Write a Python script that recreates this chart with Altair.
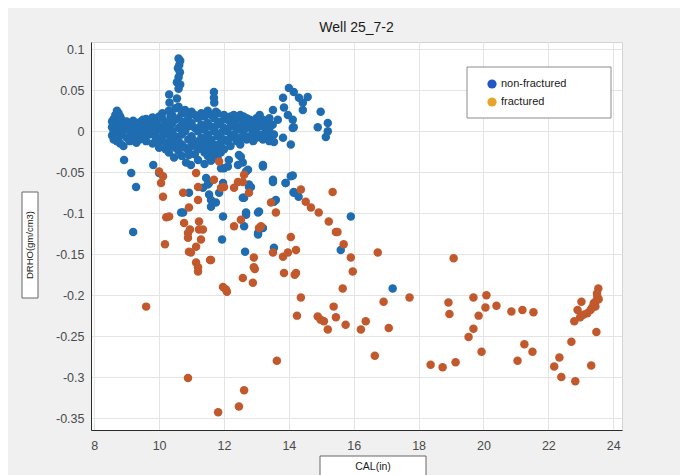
import altair as alt
import pandas as pd

# ---------------- data ----------------
# dense non-fractured band near DRHO = 0
band_x = [8.55]*3 + [8.6]*4 + [8.65]*3 + [8.7]*4 + [8.75]*4 + [8.8]*4 + [8.85]*3 + [8.9]*3 + \
    [9.0]*3 + [9.1]*3 + [9.2]*3 + [9.3]*3 + [9.4]*3 + [9.5]*3 + [9.6]*3 + [9.7]*3 + [9.8]*3 + [9.9]*3 + \
    [10.0]*4 + [10.1]*4 + [10.2]*4 + [10.3]*5 + [10.35]*3 + [10.4]*4 + [10.5]*4 + [10.6]*5 + [10.7]*5 + \
    [10.8]*4 + [10.9]*4 + [11.0]*4 + [11.1]*4 + [11.2]*5 + [11.3]*4 + [11.4]*5 + [11.5]*5 + [11.6]*5 + \
    [11.7]*4 + [11.8]*5 + [11.9]*4 + [12.0]*4 + [12.1]*3 + [12.2]*4 + [12.3]*3 + [12.4]*3 + [12.5]*4 + \
    [12.6]*3 + [12.7]*3 + [12.8]*3 + [12.9]*3 + [13.0]*3 + [13.1]*3 + [13.2]*3 + [13.3]*3 + [13.4]*3 + [13.5]*2
band_y = [0.005, -0.005, 0.012,
          0.0, 0.015, -0.01, 0.008,
          0.02, -0.003, 0.01,
          0.025, 0.005, -0.012, 0.016,
          0.022, 0.0, -0.008, 0.012,
          0.018, 0.004, -0.015, 0.01,
          0.008, -0.004, 0.014,
          0.002, -0.018, 0.011,
          0.006, -0.008, 0.012,
          0.0, -0.012, 0.009,
          0.004, -0.006, 0.013,
          -0.002, 0.008, -0.014,
          0.003, -0.01, 0.011,
          0.0, 0.014, -0.005,
          0.006, -0.012, 0.015,
          0.002, -0.004, 0.012,
          0.008, -0.015, 0.017,
          0.0, 0.013, -0.008,
          0.006, -0.012, 0.018, -0.02,
          0.002, 0.015, -0.006, 0.022,
          0.01, -0.014, 0.004, -0.022,
          0.025, 0.012, -0.004, -0.018, -0.026,
          0.018, 0.006, -0.01,
          0.02, 0.0, -0.015, 0.01,
          0.028, 0.014, -0.006, -0.02,
          0.03, 0.016, 0.004, -0.012, -0.024,
          0.022, 0.008, -0.004, -0.016, -0.03,
          0.026, 0.012, 0.0, -0.02,
          0.018, 0.006, -0.01, -0.024,
          0.024, 0.01, -0.006, -0.018,
          0.02, 0.004, -0.012, -0.028,
          0.016, 0.0, -0.014, -0.022, -0.035,
          0.022, 0.008, -0.008, -0.02,
          0.018, 0.002, -0.012, -0.026, -0.04,
          0.025, 0.01, -0.004, -0.018, -0.03,
          0.02, 0.006, -0.01, -0.024, -0.036,
          0.016, 0.0, -0.016, -0.028,
          0.022, 0.008, -0.006, -0.02, -0.032,
          0.012, -0.002, -0.014, -0.026,
          0.02, 0.004, -0.01, -0.022,
          0.014, 0.0, -0.012,
          0.018, 0.006, -0.008, -0.018,
          0.01, -0.004, 0.02,
          0.015, 0.002, -0.012,
          0.02, 0.006, -0.008, -0.016,
          0.012, -0.002, 0.018,
          0.016, 0.004, -0.01,
          0.008, -0.006, 0.014,
          0.012, 0.0, -0.012,
          0.016, 0.004, -0.008,
          0.01, -0.004, 0.02,
          0.006, -0.01, 0.014,
          0.012, 0.0, -0.008,
          0.004, 0.016, -0.012,
          0.008, -0.004]

# other non-fractured points (spike, right group, scattered below the band)
blue_x = [10.6, 10.65, 10.62, 10.58, 10.64, 10.6, 10.55, 10.65, 10.6,
          10.31, 10.32, 10.55, 11.69, 11.69, 11.7, 11.75,
          14.0, 14.15, 14.31, 14.58, 13.82, 13.51, 14.43, 13.85, 13.97, 14.12, 14.98,
          14.89, 15.2, 15.2, 15.14, 14.06, 13.54, 14.43, 13.66, 14.12, 14.15, 13.82, 13.54,
          13.2, 13.51, 14.06, 13.9, 14.15, 14.3, 13.54, 13.08, 12.68, 12.77, 12.46, 12.15,
          12.0, 12.58, 12.68,
          8.92, 9.14, 9.29, 9.82, 10.0, 10.46, 10.92, 10.98, 11.54, 11.54, 11.66, 11.6,
          11.97, 10.68, 11.91, 12.12, 12.43, 12.52, 12.74, 12.83, 12.62, 12.68, 12.62,
          13.05, 13.2, 13.51, 13.6, 13.2, 13.05, 9.2, 11.35, 11.45, 11.85, 11.75,
          15.91, 15.6, 17.2,
          10.74, 10.83, 10.92, 11.5, 11.6, 11.94, 11.97, 12.58, 12.65, 13.05,
          13.54, 13.9, 14.12, 14.15, 12.77]
blue_y = [0.089, 0.086, 0.081, 0.077, 0.072, 0.066, 0.06, 0.057, 0.052,
          0.045, 0.035, 0.04, 0.048, 0.041, 0.035, 0.024,
          0.053, 0.048, 0.041, 0.042, 0.041, 0.026, 0.026, 0.029, 0.02, 0.004, 0.024,
          0.005, 0.01, 0.0, -0.007, -0.016, -0.013, 0.035, 0.014, 0.014, 0.005, -0.008, -0.004,
          -0.041, -0.059, -0.055, -0.063, -0.075, -0.08, -0.086, -0.098, -0.102, -0.065, -0.029, -0.035,
          -0.045, -0.038, -0.049,
          -0.035, -0.051, -0.068, -0.041, -0.051, -0.032, -0.029, -0.041, -0.063, -0.077, -0.087, -0.092,
          -0.104, -0.099, -0.045, -0.043, -0.041, -0.031, -0.047, -0.068, -0.081, -0.099, -0.116,
          -0.099, -0.043, -0.062, -0.084, -0.118, -0.124, -0.123, -0.069, -0.057, -0.075, -0.087,
          -0.104, -0.145, -0.192,
          -0.099, -0.038, -0.075, -0.065, -0.084, -0.132, -0.063, -0.081, -0.147, -0.126,
          -0.142, -0.063, -0.054, -0.074, -0.068]

# fractured points
orange_x = [10.0, 10.06, 10.12, 10.22, 10.31, 11.14, 11.2, 11.2, 10.74, 10.77, 11.23, 10.92,
            11.69, 11.85, 11.91, 12.0, 12.31, 12.43, 12.62, 12.58, 13.45, 13.6, 14.37, 14.52,
            14.68, 14.92, 15.23, 15.35, 15.45, 12.31, 12.52, 10.89, 11.23, 14.06,
            10.18, 10.95, 10.89, 11.35, 11.29, 11.14, 10.92, 11.14, 11.2, 11.57, 12.77, 13.08,
            14.22, 13.51, 13.82, 13.97, 12.92, 12.92, 13.85, 14.18, 12.58, 12.89, 11.97, 12.06,
            15.5, 10.12,
            9.6, 10.98, 11.2, 11.6, 12.09, 12.95, 13.14, 14.25, 14.37, 14.22, 14.89, 14.98,
            15.08, 15.2, 15.38, 15.45, 15.75, 15.66, 15.69, 15.91, 15.97, 16.22, 16.37, 16.65,
            16.74, 10.89, 11.82, 12.46, 12.62, 13.63, 16.92, 17.08,
            19.08, 18.92, 18.95, 19.69, 20.09, 20.06, 20.4, 19.85, 19.69, 19.54, 20.86, 21.2,
            21.54, 19.94, 18.37, 18.74, 19.14, 21.26, 21.51, 21.05, 22.18, 22.34, 22.4, 22.83,
            22.71, 22.8, 22.98, 23.08, 23.02, 23.35, 23.45, 23.51, 23.54, 23.45, 23.48, 23.32,
            17.72, 23.4, 23.5, 23.3, 23.55, 23.2, 22.9]
orange_y = [-0.049, -0.063, -0.08, -0.105, -0.104, -0.051, -0.068, -0.084, -0.075, -0.112, -0.11, -0.093,
            -0.059, -0.037, -0.069, -0.068, -0.069, -0.062, -0.053, -0.062, -0.087, -0.099, -0.071, -0.086,
            -0.093, -0.099, -0.11, -0.074, -0.123, -0.116, -0.108, -0.124, -0.12, -0.129,
            -0.138, -0.12, -0.13, -0.12, -0.132, -0.141, -0.147, -0.16, -0.166, -0.157, -0.075, -0.118,
            -0.145, -0.148, -0.153, -0.148, -0.154, -0.166, -0.173, -0.175, -0.179, -0.185, -0.19, -0.193,
            -0.123, -0.055,
            -0.214, -0.148, -0.171, -0.157, -0.196, -0.168, -0.116, -0.225, -0.203, -0.173, -0.226, -0.23,
            -0.232, -0.242, -0.214, -0.227, -0.236, -0.192, -0.138, -0.154, -0.171, -0.242, -0.232, -0.274,
            -0.148, -0.301, -0.343, -0.336, -0.316, -0.28, -0.208, -0.24,
            -0.155, -0.209, -0.223, -0.203, -0.2, -0.215, -0.213, -0.225, -0.241, -0.251, -0.22, -0.218,
            -0.221, -0.269, -0.285, -0.288, -0.282, -0.26, -0.269, -0.28, -0.287, -0.276, -0.3, -0.305,
            -0.257, -0.232, -0.227, -0.224, -0.208, -0.215, -0.208, -0.202, -0.192, -0.214, -0.245, -0.286,
            -0.203, -0.21, -0.198, -0.218, -0.205, -0.222, -0.218]

x_ticks = [8, 10, 12, 14, 16, 18, 20, 22, 24]
y_ticks = [-0.35, -0.3, -0.25, -0.2, -0.15, -0.1, -0.05, 0, 0.05, 0.1]
groups = ["non-fractured", "fractured"]

# ---------------- build table ----------------
all_bx = band_x + blue_x
all_by = band_y + blue_y
df = pd.DataFrame({
    "CAL": all_bx + orange_x,
    "DRHO": all_by + orange_y,
    "group": [groups[0]] * len(all_bx) + [groups[1]] * len(orange_x),
    "order": [0] * len(all_bx) + [1] * len(orange_x),
})

FONT = "Liberation Sans"
W, H = 531, 388

points = alt.Chart(df).mark_circle(size=72, opacity=1).encode(
    x=alt.X("CAL:Q", scale=alt.Scale(domain=[7.9, 24.27], nice=False, zero=False),
            axis=alt.Axis(values=x_ticks, title=None, grid=True, ticks=False,
                          labelPadding=9, labelFontSize=12.5)),
    y=alt.Y("DRHO:Q", scale=alt.Scale(domain=[-0.3646, 0.109], nice=False, zero=False),
            axis=alt.Axis(values=y_ticks, title=None, grid=True, ticks=False,
                          labelPadding=7, labelFontSize=12.5,
                          labelExpr="'' + datum.value")),
    color=alt.Color("group:N", scale=alt.Scale(domain=groups, range=["#1f6db0", "#c2592c"]), legend=None),
    order=alt.Order("order:Q"),
)

one = pd.DataFrame({"t": ["Well 25_7-2"]})

title = alt.Chart(one).mark_text(font=FONT, fontSize=14, color="#1a1a1a", baseline="middle", align="center").encode(
    x=alt.value(W / 2), y=alt.value(-14), text="t:N")

# legend box
leg_box = alt.Chart(one).mark_rect(fill="white", stroke="#8c8c8c", strokeWidth=1).encode(
    x=alt.value(376), x2=alt.value(520), y=alt.value(25), y2=alt.value(76))
leg_df = pd.DataFrame({"lab": groups, "yy": [42, 60], "col": ["#2356c4", "#e8a42a"]})
leg_dots = alt.Chart(leg_df).mark_circle(size=85, opacity=1).encode(
    x=alt.value(401), y=alt.Y("yy:Q", scale=None), color=alt.Color("col:N", scale=None))
leg_text = alt.Chart(leg_df).mark_text(font=FONT, fontSize=11, color="#1a1a1a", align="left", baseline="middle").encode(
    x=alt.value(410), y=alt.Y("yy:Q", scale=None), text="lab:N")

# axis title boxes
ytitle_df = pd.DataFrame({"t": ["DRHO(gm/cm3)"]})
ybox = alt.Chart(ytitle_df).mark_rect(fill="white", stroke="#666666", strokeWidth=1).encode(
    x=alt.value(-69), x2=alt.value(-53), y=alt.value(150), y2=alt.value(256))
ytext = alt.Chart(ytitle_df).mark_text(font=FONT, fontSize=9.5, color="#1a1a1a", angle=270,
                                       align="center", baseline="middle").encode(
    x=alt.value(-61), y=alt.value(203), text="t:N")

xtitle_df = pd.DataFrame({"t": ["CAL(in)"]})
xbox = alt.Chart(xtitle_df).mark_rect(fill="white", stroke="#666666", strokeWidth=1).encode(
    x=alt.value(229), x2=alt.value(335), y=alt.value(414), y2=alt.value(445))
xtext = alt.Chart(xtitle_df).mark_text(font=FONT, fontSize=10.5, color="#1a1a1a",
                                       align="center", baseline="middle").encode(
    x=alt.value(282), y=alt.value(425), text="t:N")

chart = alt.layer(points, title, leg_box, leg_dots, leg_text, ybox, ytext, xbox, xtext).properties(
    width=W, height=H,
    autosize=alt.AutoSizeParams(type="none"),
    padding={"left": 83, "top": 34, "right": 58, "bottom": 45},
    background="#f0f0f0",
).configure_view(
    fill="white", stroke="#d4d4d4", strokeWidth=1
).configure_axis(
    labelFont=FONT, labelColor="#4a4a4a", gridColor="#e4e4e4", gridWidth=1,
    domainColor="#2b2b2b", domainWidth=1,
)

chart.save("out.html", embed_options={"renderer": "svg", "actions": False})
